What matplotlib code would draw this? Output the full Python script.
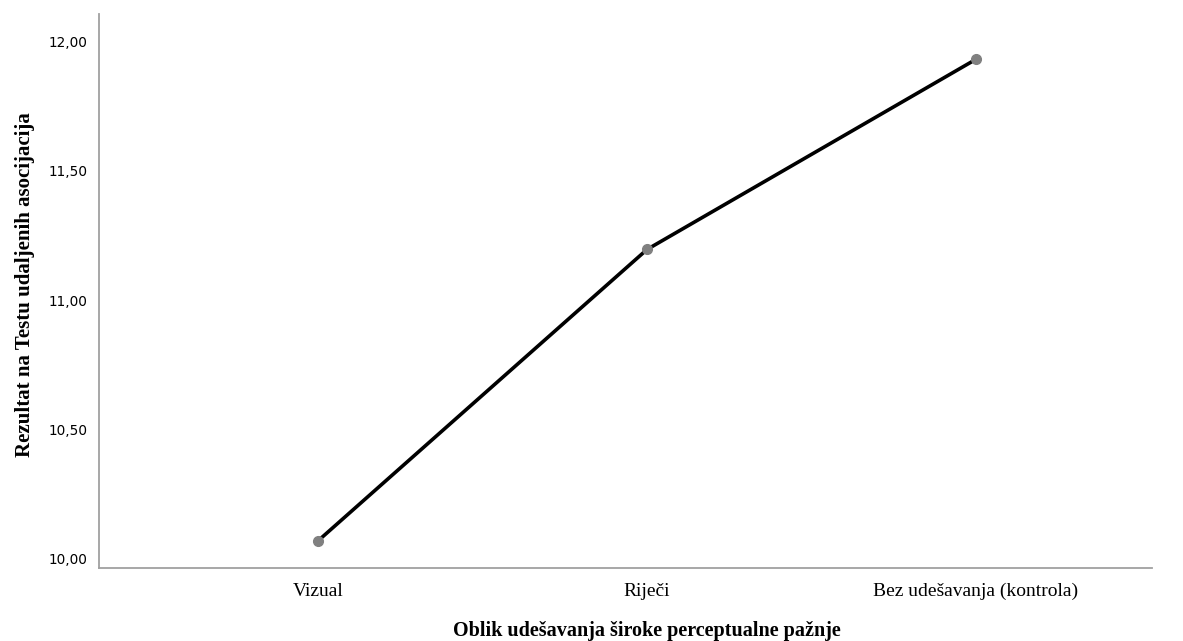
import matplotlib.pyplot as plt
from matplotlib.ticker import FuncFormatter

categories = ["Vizual", "Riječi", "Bez udešavanja (kontrola)"]
values = [10.067, 11.196, 11.933]
yticks = [10.0, 10.5, 11.0, 11.5, 12.0]

fig = plt.figure(figsize=(11.83, 6.41), dpi=100)
ax = fig.add_axes([0.0837, 0.1145, 0.8901, 0.8635])

x = list(range(len(categories)))
ax.plot(x, values, color="black", linewidth=2.6, zorder=2)
ax.plot(x, values, linestyle="none", marker="o", markersize=7,
        color="#808080", zorder=3)

ax.set_xlim(-0.666, 2.535)
ax.set_ylim(9.963, 12.108)
ax.set_xticks(x)
ax.set_xticklabels(categories, family="Liberation Serif", fontsize=14)
ax.set_yticks(yticks)
ax.yaxis.set_major_formatter(FuncFormatter(lambda v, p: f"{v:.2f}".replace(".", ",")))
for lbl in ax.get_yticklabels():
    lbl.set_family("DejaVu Sans")
    lbl.set_fontsize(9.8)
ax.tick_params(axis="both", length=0)
ax.tick_params(axis="y", pad=8)
ax.tick_params(axis="x", pad=11)

for s in ["top", "right"]:
    ax.spines[s].set_visible(False)
for s in ["left", "bottom"]:
    ax.spines[s].set_color("#a0a0a0")
    ax.spines[s].set_linewidth(1.3)

ax.set_xlabel("Oblik udešavanja široke perceptualne pažnje", family="Liberation Serif",
              fontweight="bold", fontsize=14.5)
ax.xaxis.set_label_coords(0.52, -0.097)
ax.set_ylabel("Rezultat na Testu udaljenih asocijacija", family="Liberation Serif",
              fontweight="bold", fontsize=15)
ax.yaxis.set_label_coords(-0.061, 0.512)

fig.savefig("out.png", dpi=100)
